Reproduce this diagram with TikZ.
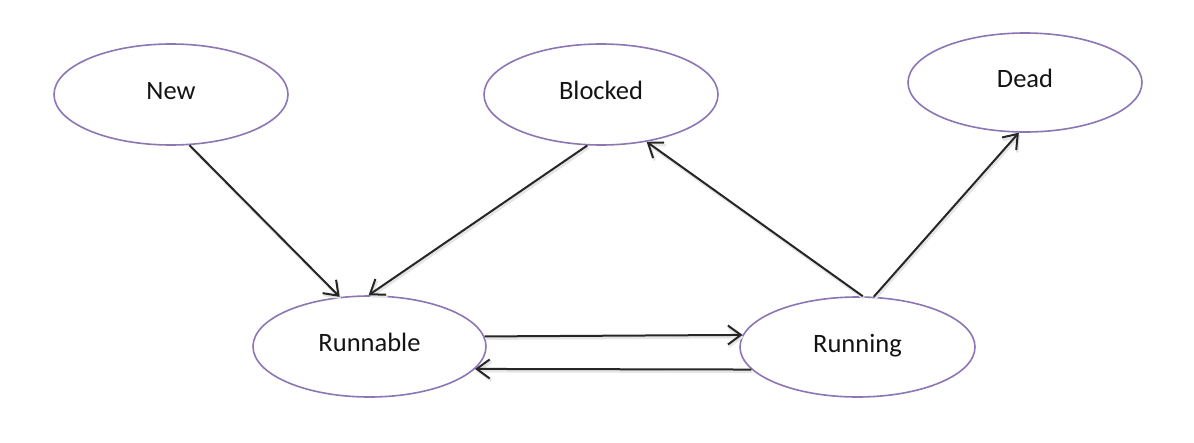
\documentclass[tikz,border=0pt]{standalone}
\usepackage{fontspec}
\setmainfont{Carlito}
\usetikzlibrary{arrows.meta,shapes.geometric}
\definecolor{ellpurple}{HTML}{8C76B5}
\definecolor{arrgray}{HTML}{262626}
\definecolor{txtcol}{HTML}{141414}
\begin{document}
\begin{tikzpicture}[x=1pt,y=-1pt,
  state/.style={ellipse, draw=ellpurple, line width=1.6pt, fill=white,
    inner sep=0pt, minimum width=234pt, minimum height=101pt,
    text=txtcol, font=\fontsize{26.5}{30}\selectfont,
    text height=17pt, text depth=7pt},
  arr/.style={draw=arrgray, line width=2pt,
    -{Straight Barb[length=13pt,width=19pt]},
    preaction={draw=black!10, line width=2.6pt,
      transform canvas={shift={(1.2pt,-2.2pt)}}}}]
\useasboundingbox (0,0) rectangle (1194,442);
\fill[white] (0,0) rectangle (1194,442);

\node[state] (new) at (171,94.5) {New};
\node[state] (blocked) at (601,94.5) {Blocked};
\node[state, minimum height=99pt] (dead) at (1025,82.5) {Dead};
\node[state, minimum width=233pt] (runnable) at (369.5,346.5) {Runnable};
\node[state, minimum width=235pt, minimum height=100pt] (running) at (857.5,347) {Running};

\draw[arr] (new.-70.4) -- (runnable.121.9);
\draw[arr] (blocked.255.6) -- (runnable.91.7);
\draw[arr] (running.84.9) -- (blocked.-46.4);
\draw[arr] (running.72.8) -- (dead.263.4);
\draw[arr] (runnable.5.2) -- (running.174.7);
\draw[arr] (running.192.6) -- (runnable.-12.8);
\end{tikzpicture}
\end{document}
